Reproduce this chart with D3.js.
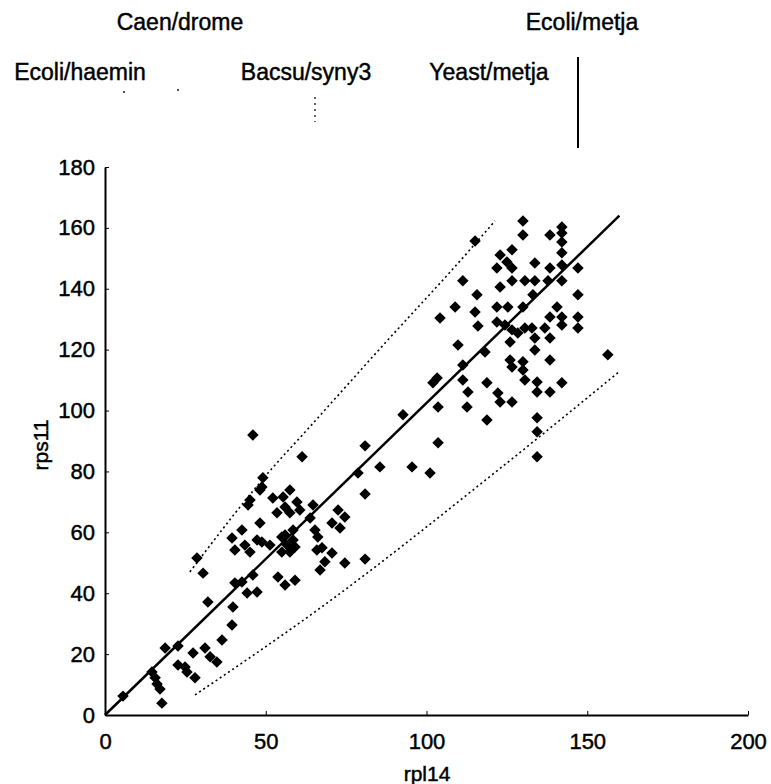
<!DOCTYPE html>
<html>
<head>
<meta charset="utf-8">
<script src="https://cdn.jsdelivr.net/npm/d3@7"></script>
<style>
  body { margin: 0; background: #fff; }
  svg { display: block; font-family: "Liberation Sans", Arial, sans-serif; }
</style>
</head>
<body>
<div id="chart"></div>
<script>
// rpl14 vs rps11 scatter, with fit line and band

// point values
const rpl14 = [5.6,14.6,15.6,16.2,17.1,17.7,18.7,22.7,22.7,24.9,27.4,25.5,28.0,31.1,32.7,34.8,36.4,39.5,39.8,32.0,
  40.4,42.6,44.2,47.3,46.0,30.5,28.6,40.4,39.5,42.6,43.5,45.1,47.3,44.5,45.1,46.0,
  48.8,48.2,49.1,48.2,48.8,51.3,52.2,55.4,57.5,59.7,56.0,53.5,57.5,60.6,64.7,63.8,55.0,56.6,58.5,59.1,57.5,55.0,56.0,58.5,
  65.3,66.2,65.9,67.5,70.6,68.4,74.6,80.9,66.9,53.8,56.0,59.1,61.3,72.5,74.6,70.6,73.1,80.9,78.7,80.9,85.5,
  130.0,130.0,142.1,142.1,138.4,142.1,115.1,126.6,122.9,142.1,125.0,121.9,126.6,133.7,138.4,142.1,147.1,
  111.3,122.9,126.6,130.6,133.7,137.8,142.1,133.1,115.7,147.1,108.9,115.1,121.9,125.3,130.0,140.6,
  104.2,116.0,121.9,124.4,126.6,128.4,130.6,132.8,138.4,142.1,147.1,147.1,142.1,136.8,138.4,133.7,126.0,
  109.8,118.2,133.7,138.4,126.0,126.6,130.0,130.0,130.6,134.4,134.4,138.4,142.1,156.4,111.3,118.8,122.2,
  122.9,126.6,112.9,112.6,103.6,102.0,103.3,92.7,118.8,134.4,134.4,134.4,103.6,95.5,101.1,111.3];
const rps11 = [6.2,14.1,12.2,10.2,8.5,3.9,22.0,22.7,16.4,15.8,20.4,14.1,12.2,22.0,19.1,17.4,24.6,29.6,35.5,37.1,
  43.4,43.7,40.1,40.4,46.0,46.6,51.6,54.2,58.1,60.8,55.8,53.5,57.5,69.0,70.6,92.0,
  74.9,73.9,77.9,63.1,56.8,55.8,71.3,71.6,73.9,70.0,68.3,66.4,66.4,67.3,69.0,64.7,58.5,55.8,57.5,55.2,53.5,53.5,59.1,60.8,
  60.8,58.5,54.2,54.9,53.2,50.3,49.9,51.2,47.6,45.3,42.7,44.3,84.8,67.3,65.0,63.1,61.4,88.4,79.5,72.6,81.5,
  162.3,157.7,160.3,158.3,157.7,155.4,155.7,152.8,151.1,151.8,148.8,146.8,146.8,148.5,146.8,147.8,146.8,
  142.6,140.6,142.6,142.6,142.6,142.6,142.6,138.0,138.0,138.0,134.0,132.4,134.0,134.0,134.0,134.0,
  130.4,127.8,129.1,128.1,126.5,125.5,127.1,127.1,130.7,130.7,130.7,127.1,128.1,127.1,123.8,123.8,122.5,
  121.5,119.2,119.9,116.6,116.6,114.3,116.0,113.3,110.0,109.4,106.1,106.1,109.1,118.3,110.0,109.1,105.8,
  102.8,102.8,106.1,101.2,101.2,109.1,110.7,98.6,96.9,97.6,93.0,84.8,89.4,81.5,79.5,115.0];

// fitted line and the dotted band around it
const fitX = [0, 160];
const fitY = [0, 164];
const upperBandX = [26.4, 51.3, 62.8, 85.5, 113.5, 121.3];
const upperBandY = [47, 80.2, 93.6, 120.3, 152.8, 162.3];
const lowerBandX = [28, 66.9, 122.9, 160.2];
const lowerBandY = [6.6, 35.1, 81, 113];

const xTicks = [0, 50, 100, 150, 200];
const yTicks = [0, 20, 40, 60, 80, 100, 120, 140, 160, 180];
const xTitle = "rpl14";
const yTitle = "rps11";
const topLabels = ["Caen/drome", "Ecoli/metja", "Ecoli/haemin", "Bacsu/syny3", "Yeast/metja"];

const width = 771, height = 784;
const svg = d3.select("#chart").append("svg")
  .attr("width", width).attr("height", height);
svg.append("rect").attr("width", width).attr("height", height).attr("fill", "#fff");

const x = d3.scaleLinear().domain([0, 200]).range([105, 748]);
const y = d3.scaleLinear().domain([0, 180]).range([715, 167]);

// scanned text is a bit heavier than plain regular
function ink(sel) {
  sel.attr("fill", "#000").attr("stroke", "#000").attr("stroke-width", 0.45);
}

// labels across the top (cut from a bigger figure)
const labelPos = [[180, 22], [582, 22], [80, 72], [306, 72], [489, 72]];
svg.append("g").selectAll("text")
  .data(topLabels)
  .join("text")
  .attr("x", (d, i) => labelPos[i][0])
  .attr("y", (d, i) => labelPos[i][1])
  .attr("text-anchor", "middle")
  .attr("dominant-baseline", "central")
  .attr("font-size", 23)
  .call(ink)
  .text(d => d);
svg.append("line").attr("x1", 578).attr("x2", 578).attr("y1", 57).attr("y2", 148)
  .attr("stroke", "#000").attr("stroke-width", 2);
svg.append("line").attr("x1", 315).attr("x2", 315).attr("y1", 97).attr("y2", 122)
  .attr("stroke", "#000").attr("stroke-width", 1.2).attr("stroke-dasharray", "2,4");
// two specks left of the dotted mark
svg.append("g").selectAll("circle")
  .data([[124, 92], [178, 90]])
  .join("circle")
  .attr("cx", d => d[0]).attr("cy", d => d[1]).attr("r", 0.9).attr("fill", "#000");

// axes
const yAxis = d3.axisLeft(y).tickValues(yTicks).tickSizeInner(-4).tickSizeOuter(0).tickPadding(10);
const xAxis = d3.axisBottom(x).tickValues(xTicks).tickSizeInner(-4).tickSizeOuter(0).tickPadding(18);

const gy = svg.append("g").attr("transform", "translate(105,0)").call(yAxis);
const gx = svg.append("g").attr("transform", "translate(0,715)").call(xAxis);
[gx, gy].forEach(g => {
  g.select(".domain").attr("stroke", "#000").attr("stroke-width", 2);
  g.selectAll(".tick line").attr("stroke", "#000");
  g.selectAll(".tick text")
    .attr("font-size", 22)
    .attr("font-family", "'Liberation Sans', Arial, sans-serif")
    .call(ink);
});

svg.append("text")
  .attr("x", 427).attr("y", 773)
  .attr("text-anchor", "middle").attr("dominant-baseline", "central")
  .attr("font-size", 21).call(ink).text(xTitle);
svg.append("text")
  .attr("transform", "translate(40,445) rotate(-90)")
  .attr("text-anchor", "middle").attr("dominant-baseline", "central")
  .attr("font-size", 21).call(ink).text(yTitle);

// band and fit
const line = d3.line().x(d => x(d[0])).y(d => y(d[1])).curve(d3.curveMonotoneX);
const upper = upperBandX.map((v, i) => [v, upperBandY[i]]);
const lower = lowerBandX.map((v, i) => [v, lowerBandY[i]]);
const fit = fitX.map((v, i) => [v, fitY[i]]);

svg.append("path").datum(upper).attr("d", line)
  .attr("fill", "none").attr("stroke", "#000").attr("stroke-width", 1.6)
  .attr("stroke-dasharray", "2,3");
svg.append("path").datum(lower).attr("d", line)
  .attr("fill", "none").attr("stroke", "#000").attr("stroke-width", 1.6)
  .attr("stroke-dasharray", "2,3");
svg.append("path").datum(fit).attr("d", d3.line().x(d => x(d[0])).y(d => y(d[1])))
  .attr("fill", "none").attr("stroke", "#000").attr("stroke-width", 2.5);

// points as diamonds
const pts = rpl14.map((v, i) => ({ x: v, y: rps11[i] }));
const diamond = d3.symbol().type(d3.symbolSquare).size(66);
svg.append("g").selectAll("path")
  .data(pts)
  .join("path")
  .attr("d", diamond)
  .attr("transform", d => `translate(${x(d.x)},${y(d.y)}) rotate(45)`)
  .attr("fill", "#000");
</script>
</body>
</html>
